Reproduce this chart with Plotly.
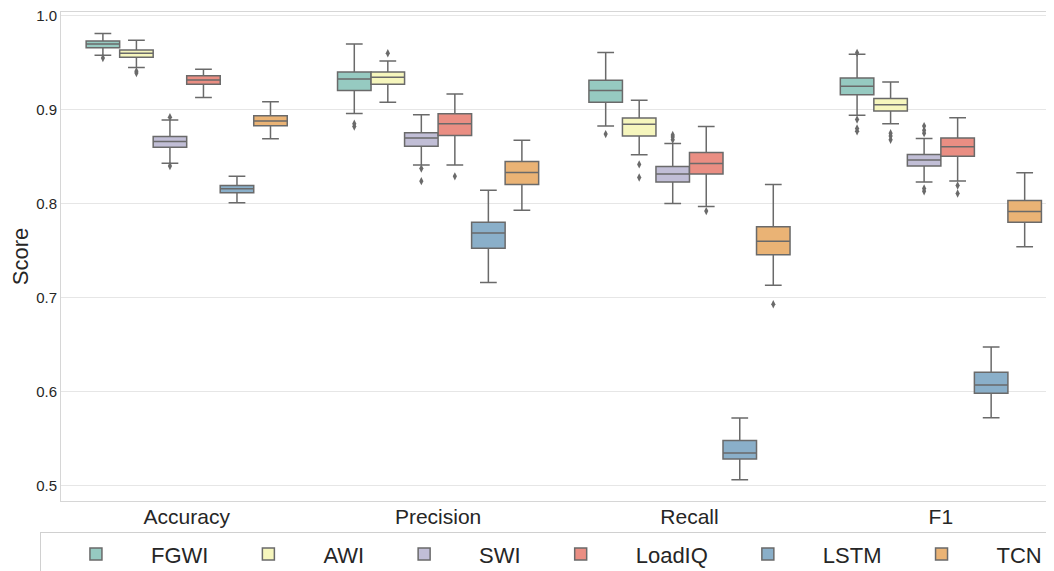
import plotly.graph_objects as go

metrics = ["Accuracy", "Precision", "Recall", "F1"]
models = ["FGWI", "AWI", "SWI", "LoadIQ", "LSTM", "TCN"]
colors = ["#96cac1", "#f6f6bd", "#c1bed6", "#ea8e83", "#8aafc9", "#eab375"]

# per model: values for [Accuracy, Precision, Recall, F1]
lower = {
    "FGWI":   [0.958, 0.896, 0.8825, 0.894],
    "AWI":    [0.945, 0.908, 0.852, 0.885],
    "SWI":    [0.843, 0.841, 0.800, 0.823],
    "LoadIQ": [0.913, 0.841, 0.797, 0.824],
    "LSTM":   [0.801, 0.716, 0.506, 0.572],
    "TCN":    [0.869, 0.793, 0.713, 0.754],
}
q1 = {
    "FGWI":   [0.966, 0.9205, 0.908, 0.916],
    "AWI":    [0.9557, 0.927, 0.872, 0.8985],
    "SWI":    [0.860, 0.861, 0.823, 0.840],
    "LoadIQ": [0.927, 0.8726, 0.8314, 0.8505],
    "LSTM":   [0.8114, 0.7525, 0.528, 0.598],
    "TCN":    [0.883, 0.8204, 0.7454, 0.780],
}
median = {
    "FGWI":   [0.970, 0.9326, 0.9205, 0.925],
    "AWI":    [0.960, 0.9344, 0.8846, 0.9052],
    "SWI":    [0.866, 0.8697, 0.8314, 0.8463],
    "LoadIQ": [0.9315, 0.885, 0.8427, 0.8605],
    "LSTM":   [0.8157, 0.7688, 0.5344, 0.6069],
    "TCN":    [0.888, 0.8332, 0.760, 0.7916],
}
q3 = {
    "FGWI":   [0.973, 0.940, 0.9312, 0.9336],
    "AWI":    [0.9635, 0.940, 0.891, 0.912],
    "SWI":    [0.8715, 0.8753, 0.8396, 0.8523],
    "LoadIQ": [0.936, 0.8956, 0.8545, 0.8697],
    "LSTM":   [0.8193, 0.780, 0.5476, 0.6204],
    "TCN":    [0.8935, 0.8449, 0.7752, 0.8033],
}
upper = {
    "FGWI":   [0.981, 0.970, 0.961, 0.959],
    "AWI":    [0.974, 0.9517, 0.910, 0.9294],
    "SWI":    [0.889, 0.8945, 0.864, 0.8694],
    "LoadIQ": [0.943, 0.9166, 0.882, 0.8913],
    "LSTM":   [0.829, 0.8143, 0.5717, 0.6474],
    "TCN":    [0.9084, 0.8675, 0.8204, 0.8328],
}
outliers = {
    "FGWI":   [[0.955], [0.885, 0.882], [0.874], [0.9605, 0.8896, 0.880, 0.877]],
    "AWI":    [[0.941, 0.939], [0.960], [0.8417, 0.8278], [0.875, 0.872, 0.868]],
    "SWI":    [[0.892, 0.840], [0.8374, 0.8239], [0.873, 0.871, 0.868], [0.8825, 0.878, 0.875, 0.816, 0.813]],
    "LoadIQ": [[], [0.829], [0.792], [0.8193, 0.8108]],
    "LSTM":   [[], [], [], []],
    "TCN":    [[], [], [0.6928], []],
}

edge = "#6a6a6a"
fig = go.Figure()
for m, c in zip(models, colors):
    # sample per box: the median (inside the fences, so not drawn) plus the outliers
    samples = [[med] + pts for med, pts in zip(median[m], outliers[m])]
    fig.add_trace(go.Box(
        name=m,
        x=metrics,
        y=samples,
        q1=q1[m], median=median[m], q3=q3[m],
        lowerfence=lower[m], upperfence=upper[m],
        boxpoints="outliers",
        fillcolor=c,
        line=dict(color=edge, width=1.5),
        marker=dict(symbol="diamond-tall", size=6, color=edge,
                    line=dict(width=0)),
        whiskerwidth=0.5,
    ))

font = "Liberation Sans, Arial, sans-serif"
# page body has an 8px margin, so the figure is sized to end at the window edge
fig.update_layout(
    width=1046, height=563,
    margin=dict(l=53, r=0, t=4, b=70, autoexpand=False),
    paper_bgcolor="white", plot_bgcolor="white",
    boxmode="group", boxgap=0.2, boxgroupgap=0,
    font=dict(family=font, color="#262626", size=15),
    showlegend=True,
    legend=dict(
        orientation="h", x=-0.0212, y=-0.064, xanchor="left", yanchor="top",
        font=dict(size=22, color="#262626"),
        bordercolor="#d0d0d0", borderwidth=1, bgcolor="white",
        traceorder="normal", itemwidth=100,
    ),
)
fig.update_xaxes(
    type="category", categoryorder="array", categoryarray=metrics,
    range=[-0.5, 3.45], showgrid=False, showline=True, mirror=True,
    linecolor="#d6d6d6", linewidth=1, ticks="", ticklen=0, automargin=False,
    ticklabelstandoff=-3,
    tickfont=dict(size=21, color="#262626"),
)
fig.update_yaxes(
    range=[0.4833, 1.004], tickvals=[0.5, 0.6, 0.7, 0.8, 0.9, 1.0],
    tickformat=".1f", showgrid=True, gridcolor="#e6e6e6", gridwidth=1,
    showline=True, mirror=True, linecolor="#d6d6d6", linewidth=1,
    ticks="", ticklen=0, ticklabelstandoff=0, zeroline=False, automargin=False,
    ticklabeloverflow="allow",
    tickfont=dict(size=15, color="#262626"),
    title=dict(text="Score", font=dict(size=22, color="#262626"), standoff=10),
)
fig.write_html("out.html")
